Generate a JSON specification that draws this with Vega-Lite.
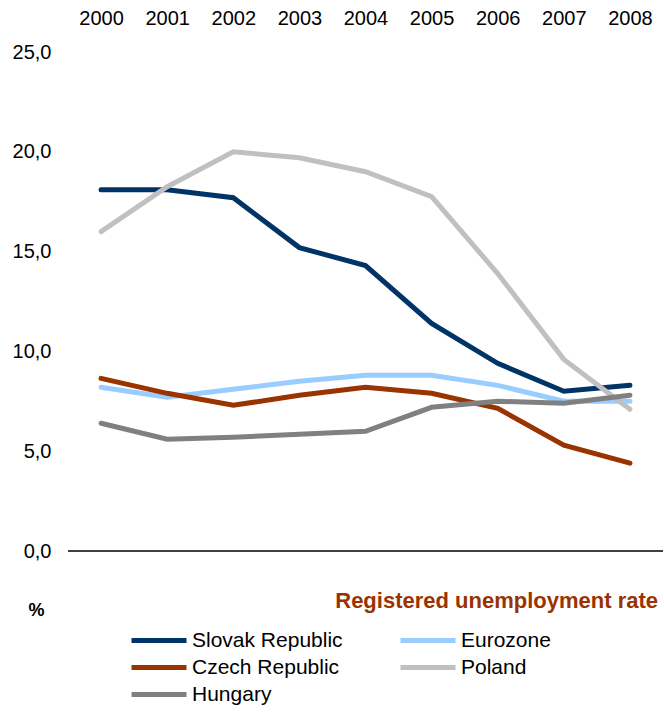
{
  "$schema": "https://vega.github.io/schema/vega-lite/v6.json",
  "width": 595,
  "height": 499,
  "autosize": "none",
  "padding": {"left": 68, "top": 52, "right": 1, "bottom": 162},
  "background": "white",
  "config": {
    "view": {"stroke": null},
    "font": "Liberation Sans"
  },
  "title": {
    "text": "Registered unemployment rate",
    "orient": "bottom",
    "anchor": "end",
    "color": "#993300",
    "fontSize": 22,
    "fontWeight": "bold",
    "font": "Liberation Sans",
    "offset": 0,
    "dy": -117,
    "dx": -5,
    "frame": "group"
  },
  "data": {
    "values": [
      {"year": "2000", "country": "Slovak Republic", "rate": 18.1},
      {"year": "2001", "country": "Slovak Republic", "rate": 18.1},
      {"year": "2002", "country": "Slovak Republic", "rate": 17.7},
      {"year": "2003", "country": "Slovak Republic", "rate": 15.2},
      {"year": "2004", "country": "Slovak Republic", "rate": 14.3},
      {"year": "2005", "country": "Slovak Republic", "rate": 11.4},
      {"year": "2006", "country": "Slovak Republic", "rate": 9.4},
      {"year": "2007", "country": "Slovak Republic", "rate": 8.0},
      {"year": "2008", "country": "Slovak Republic", "rate": 8.3},
      {"year": "2000", "country": "Eurozone", "rate": 8.2},
      {"year": "2001", "country": "Eurozone", "rate": 7.7},
      {"year": "2002", "country": "Eurozone", "rate": 8.1},
      {"year": "2003", "country": "Eurozone", "rate": 8.5},
      {"year": "2004", "country": "Eurozone", "rate": 8.8},
      {"year": "2005", "country": "Eurozone", "rate": 8.8},
      {"year": "2006", "country": "Eurozone", "rate": 8.3},
      {"year": "2007", "country": "Eurozone", "rate": 7.5},
      {"year": "2008", "country": "Eurozone", "rate": 7.5},
      {"year": "2000", "country": "Czech Republic", "rate": 8.65},
      {"year": "2001", "country": "Czech Republic", "rate": 7.9},
      {"year": "2002", "country": "Czech Republic", "rate": 7.3},
      {"year": "2003", "country": "Czech Republic", "rate": 7.8},
      {"year": "2004", "country": "Czech Republic", "rate": 8.2},
      {"year": "2005", "country": "Czech Republic", "rate": 7.9},
      {"year": "2006", "country": "Czech Republic", "rate": 7.15},
      {"year": "2007", "country": "Czech Republic", "rate": 5.3},
      {"year": "2008", "country": "Czech Republic", "rate": 4.4},
      {"year": "2000", "country": "Poland", "rate": 16.0},
      {"year": "2001", "country": "Poland", "rate": 18.25},
      {"year": "2002", "country": "Poland", "rate": 20.0},
      {"year": "2003", "country": "Poland", "rate": 19.7},
      {"year": "2004", "country": "Poland", "rate": 19.0},
      {"year": "2005", "country": "Poland", "rate": 17.75},
      {"year": "2006", "country": "Poland", "rate": 13.9},
      {"year": "2007", "country": "Poland", "rate": 9.6},
      {"year": "2008", "country": "Poland", "rate": 7.1},
      {"year": "2000", "country": "Hungary", "rate": 6.4},
      {"year": "2001", "country": "Hungary", "rate": 5.6},
      {"year": "2002", "country": "Hungary", "rate": 5.7},
      {"year": "2003", "country": "Hungary", "rate": 5.85},
      {"year": "2004", "country": "Hungary", "rate": 6.0},
      {"year": "2005", "country": "Hungary", "rate": 7.2},
      {"year": "2006", "country": "Hungary", "rate": 7.5},
      {"year": "2007", "country": "Hungary", "rate": 7.4},
      {"year": "2008", "country": "Hungary", "rate": 7.8}
    ]
  },
  "layer": [
    {
      "mark": {"type": "rule", "color": "#404040", "strokeWidth": 1},
      "encoding": {"y": {"datum": 0}}
    },
    {
      "mark": {"type": "line", "strokeWidth": 5, "strokeCap": "round", "strokeJoin": "miter"},
      "encoding": {
        "x": {
          "field": "year",
          "type": "ordinal",
          "scale": {"type": "point", "padding": 0.5},
          "axis": {
            "orient": "top",
            "title": null,
            "domain": false,
            "ticks": false,
            "tickSize": 0,
            "labelPadding": 24,
            "labelAngle": 0,
            "labelFontSize": 20,
            "labelColor": "#000000",
            "labelFont": "Liberation Sans"
          }
        },
        "y": {
          "field": "rate",
          "type": "quantitative",
          "scale": {"domain": [0, 25], "nice": false, "zero": true},
          "axis": {
            "values": [0, 5, 10, 15, 20, 25],
            "labelExpr": "replace(format(datum.value, '.1f'), '.', ',')",
            "domain": false,
            "ticks": false,
            "tickSize": 0,
            "grid": false,
            "labelPadding": 17,
            "labelFontSize": 20,
            "labelColor": "#000000",
            "labelFont": "Liberation Sans",
            "title": "%",
            "titleAngle": 0,
            "titleFontSize": 18,
            "titleFontWeight": "bold",
            "titleFont": "Liberation Sans",
            "titleColor": "#000000",
            "titleX": -32,
            "titleY": 563,
            "titleAlign": "center",
            "titleBaseline": "alphabetic"
          }
        },
        "color": {
          "field": "country",
          "type": "nominal",
          "sort": ["Slovak Republic", "Eurozone", "Czech Republic", "Poland", "Hungary"],
          "scale": {
            "domain": ["Slovak Republic", "Eurozone", "Czech Republic", "Poland", "Hungary"],
            "range": ["#003366", "#99CCFF", "#993300", "#C0C0C0", "#808080"]
          },
          "legend": {
            "orient": "none",
            "legendX": 61,
            "legendY": 575,
            "title": null,
            "columns": 2,
            "direction": "horizontal",
            "symbolType": "stroke",
            "symbolSize": 3025,
            "symbolStrokeWidth": 5,
            "clipHeight": 27,
            "labelFontSize": 21,
            "labelFont": "Liberation Sans",
            "labelColor": "#000000",
            "labelOffset": 3,
            "labelLimit": 300,
            "columnPadding": 55,
            "rowPadding": 0
          }
        }
      }
    }
  ]
}
